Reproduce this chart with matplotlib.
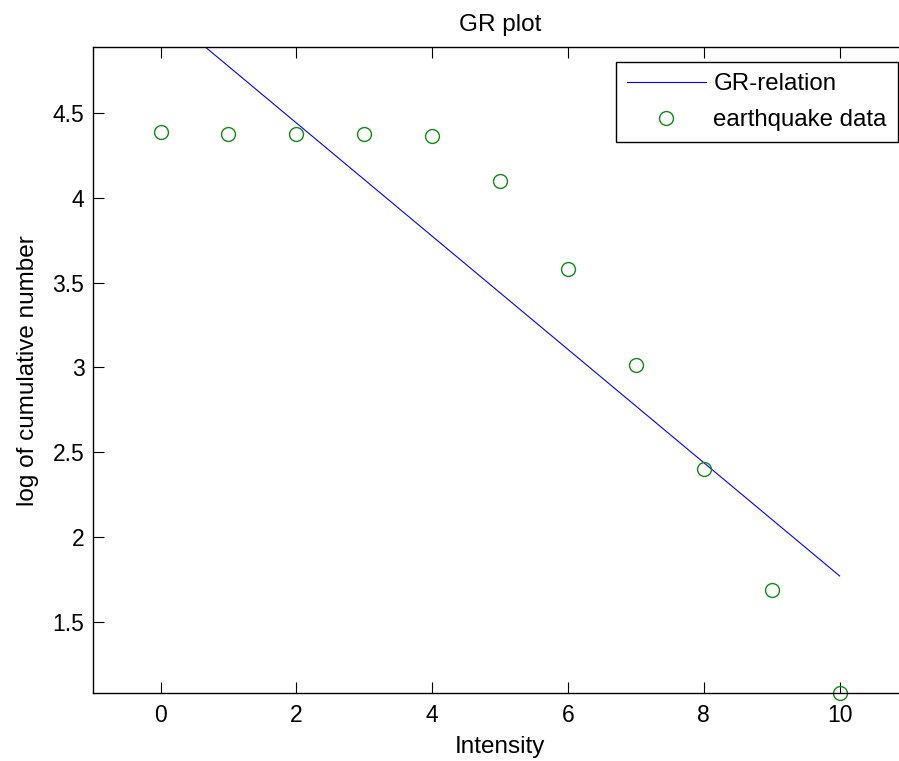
import numpy as np
import matplotlib
matplotlib.use("Agg")
import matplotlib.pyplot as plt

plt.rcParams['font.family'] = ['Liberation Sans', 'DejaVu Sans']

# intensity classes and log10 of cumulative earthquake counts
intensity = [0, 1, 2, 3, 4, 5, 6, 7, 8, 9, 10]
log_cum = [4.386, 4.376, 4.376, 4.376, 4.366, 4.100, 3.580, 3.014, 2.404, 1.688, 1.081]

# Gutenberg-Richter fit: log N = a - b*I
gr_a = 5.107
gr_b = 0.3335

yticks = [1.5, 2, 2.5, 3, 3.5, 4, 4.5]
xticks = [0, 2, 4, 6, 8, 10]

fig = plt.figure(figsize=(8.99, 7.61), dpi=100)
ax = fig.add_axes([0.1031, 0.0890, 0.9064, 0.8489])

I = np.array([intensity[0], intensity[-1]])
ax.plot(I, gr_a - gr_b * I, color=(0, 0, 1), lw=0.8, label='GR-relation')
ax.plot(intensity, log_cum, 'o', mfc='none', mec=(0.05, 0.55, 0.05), ms=10, mew=1.0,
        label='earthquake data', clip_on=False)

ax.set_xlim(-1, 11)
ax.set_ylim(1.081, 4.886)
ax.set_xticks(xticks)
ax.set_yticks(yticks)
ax.set_yticklabels(['%g' % v for v in yticks])
ax.tick_params(direction='in', length=8, width=0.8, top=True, right=False,
               labelsize=16.5)
ax.tick_params(axis='x', pad=8)
ax.tick_params(axis='y', pad=6)
ax.spines['right'].set_visible(False)
for s in ax.spines.values():
    s.set_linewidth(1.0)

ax.set_title('GR plot', fontsize=17.5, pad=12)
ax.set_xlabel('Intensity', fontsize=17.5, labelpad=6)
ax.set_ylabel('log of cumulative number', fontsize=17.5, labelpad=10)

leg = ax.legend(loc='upper right', bbox_to_anchor=(897.7 / 899, 1 - 62.3 / 761),
                bbox_transform=fig.transFigure, borderaxespad=0, fontsize=17.3,
                fancybox=False, edgecolor='black', framealpha=1,
                handlelength=3.3, handletextpad=0.3, labelspacing=0.58,
                borderpad=0.46)
leg.get_frame().set_linewidth(1.0)

fig.savefig('out.png', dpi=100)
